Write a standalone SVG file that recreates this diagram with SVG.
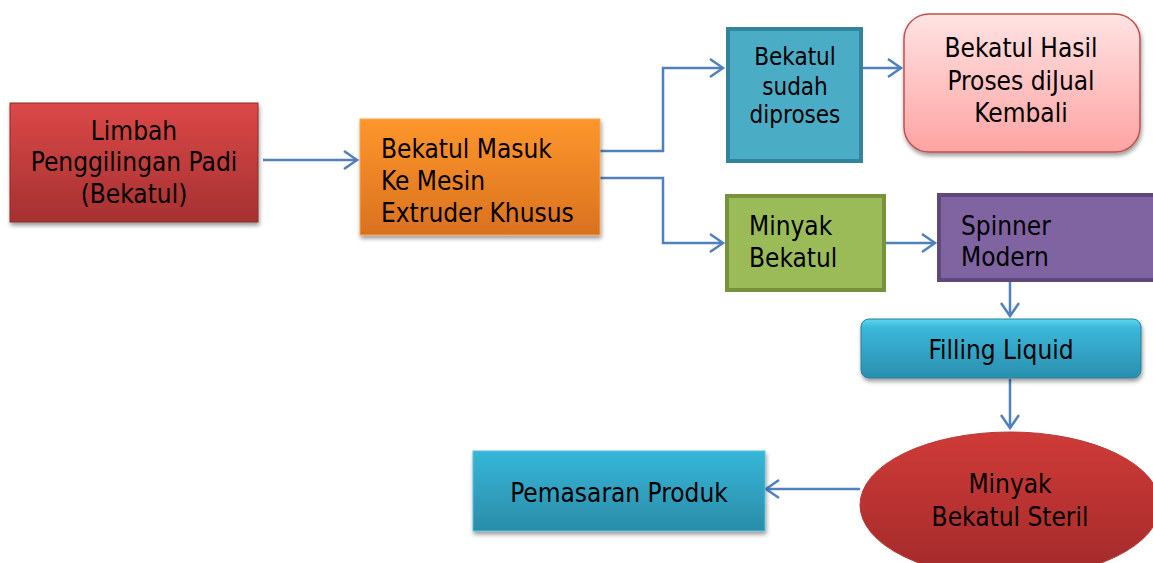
<svg xmlns="http://www.w3.org/2000/svg" width="1153" height="563" viewBox="0 0 1153 563">
<style>
text{font-family:"DejaVu Sans Condensed","Liberation Sans",sans-serif;font-size:26px;fill:#000}
.c{text-anchor:middle}
.s{font-size:24px}
.con{fill:none;stroke:#4F81BD;stroke-width:2.5}
</style>
<defs>
<marker id="arr" markerWidth="20" markerHeight="22" refX="15" refY="11" orient="auto" markerUnits="userSpaceOnUse">
<path d="M2,2 L15,11 L2,20" fill="none" stroke="#4F81BD" stroke-width="2.5"/>
</marker>
<filter id="sh" x="-10%" y="-10%" width="125%" height="130%">
<feGaussianBlur in="SourceAlpha" stdDeviation="2"/>
<feOffset dx="1" dy="3" result="b"/>
<feComponentTransfer><feFuncA type="linear" slope="0.4"/></feComponentTransfer>
<feMerge><feMergeNode/><feMergeNode in="SourceGraphic"/></feMerge>
</filter>
<linearGradient id="gRed" x1="0" y1="0" x2="0" y2="1"><stop offset="0" stop-color="#DC4848"/><stop offset="1" stop-color="#A53131"/></linearGradient>
<linearGradient id="gOr" x1="0" y1="0" x2="0" y2="1"><stop offset="0" stop-color="#FE962C"/><stop offset="1" stop-color="#D9711F"/></linearGradient>
<linearGradient id="gPink" x1="0" y1="0" x2="0" y2="1"><stop offset="0" stop-color="#FFE3E3"/><stop offset="1" stop-color="#FFA3A3"/></linearGradient>
<linearGradient id="gCy" x1="0" y1="0" x2="0" y2="1"><stop offset="0" stop-color="#5FD6F2"/><stop offset="0.15" stop-color="#3BB7DA"/><stop offset="1" stop-color="#2A8FAE"/></linearGradient>
<linearGradient id="gCy2" x1="0" y1="0" x2="0" y2="1"><stop offset="0" stop-color="#37B6D8"/><stop offset="1" stop-color="#2A8DA8"/></linearGradient>
<linearGradient id="gEl" x1="0" y1="0" x2="0" y2="1"><stop offset="0" stop-color="#CF3B38"/><stop offset="1" stop-color="#A22A2A"/></linearGradient>
</defs>

<g id="connectors">
<line class="con" x1="263" y1="160" x2="357" y2="160" marker-end="url(#arr)"/>
<polyline class="con" points="600,151 663,151 663,68 723,68" marker-end="url(#arr)"/>
<polyline class="con" points="600,178 663,178 663,243 723,243" marker-end="url(#arr)"/>
<line class="con" x1="862" y1="68" x2="901" y2="68" marker-end="url(#arr)"/>
<line class="con" x1="885" y1="243" x2="935" y2="243" marker-end="url(#arr)"/>
<line class="con" x1="1010" y1="281" x2="1010" y2="316" marker-end="url(#arr)"/>
<line class="con" x1="1010" y1="379" x2="1010" y2="428" marker-end="url(#arr)"/>
<line class="con" x1="860" y1="489" x2="766" y2="489" marker-end="url(#arr)"/>
</g>

<g id="n-limbah">
<rect x="10" y="103" width="248" height="119" fill="url(#gRed)" stroke="#8E2A2A" stroke-width="1" filter="url(#sh)"/>
<text class="c" x="134" y="140">Limbah</text>
<text class="c" x="134" y="171">Penggilingan Padi</text>
<text class="c" x="134" y="203">(Bekatul)</text>
</g>

<g id="n-extruder">
<rect x="360" y="119" width="240" height="116" fill="url(#gOr)" stroke="#F4A55A" stroke-width="1" filter="url(#sh)"/>
<text x="381" y="158">Bekatul Masuk</text>
<text x="381" y="190">Ke Mesin</text>
<text x="381" y="222">Extruder Khusus</text>
</g>

<g id="n-diproses">
<rect x="728" y="29" width="133" height="132" fill="#4BACC6" stroke="#31849B" stroke-width="4"/>
<text class="c s" x="795" y="65">Bekatul</text>
<text class="c s" x="795" y="95">sudah</text>
<text class="c s" x="795" y="123">diproses</text>
</g>

<g id="n-hasil">
<rect x="904" y="14" width="236" height="138" rx="25" fill="url(#gPink)" stroke="#C0504D" stroke-width="1.5" filter="url(#sh)"/>
<text class="c" x="1021" y="57">Bekatul Hasil</text>
<text class="c" x="1021" y="90">Proses diJual</text>
<text class="c" x="1021" y="122">Kembali</text>
</g>

<g id="n-minyak">
<rect x="727" y="196" width="157" height="94" fill="#9BBB59" stroke="#76923C" stroke-width="4"/>
<text x="749" y="235">Minyak</text>
<text x="749" y="267">Bekatul</text>
</g>

<g id="n-spinner">
<rect x="939" y="195" width="220" height="85" fill="#8064A2" stroke="#5F497A" stroke-width="4"/>
<text x="961" y="235">Spinner</text>
<text x="961" y="266">Modern</text>
</g>

<g id="n-filling">
<rect x="861" y="319" width="280" height="59" rx="8" fill="url(#gCy)" stroke="#2A7F9A" stroke-width="1" filter="url(#sh)"/>
<text class="c" x="1001" y="359">Filling Liquid</text>
</g>

<g id="n-steril">
<ellipse cx="1010" cy="505" rx="150" ry="73" fill="url(#gEl)" stroke="#B43A38" stroke-width="1"/>
<text class="c" x="1010" y="493">Minyak</text>
<text class="c" x="1010" y="526">Bekatul Steril</text>
</g>

<g id="n-pemasaran">
<rect x="473" y="451" width="292" height="80" fill="url(#gCy2)" stroke="#5BC0DE" stroke-width="1" filter="url(#sh)"/>
<text class="c" x="619" y="502">Pemasaran Produk</text>
</g>
</svg>
